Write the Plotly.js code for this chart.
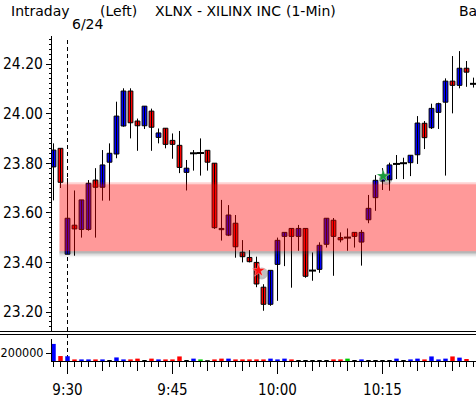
<!DOCTYPE html>
<html><head><meta charset="utf-8">
<script src="https://cdn.plot.ly/plotly-3.0.1.min.js"></script>
<style>html,body{margin:0;padding:0;background:#fff}#chart{width:476px;height:398px}</style>
</head><body><div id="chart"></div>
<script>
// minute offsets from 9:30 (the two negative ones are the previous session's last bars)
const minuteIndex = [-2,-1,0,1,2,3,4,5,6,7,8,9,10,11,12,13,14,15,16,17,18,19,20,21,22,23,24,25,26,27,28,29,30,31,32,33,34,35,36,37,38,39,40,41,42,43,44,45,46,47,48,49,50,51,52,53,54,55,56,57,58];
const openP  = [23.785,23.860,23.433,23.550,23.533,23.533,23.732,23.703,23.804,23.837,23.950,24.091,23.970,23.951,24.010,23.904,23.941,23.892,23.872,23.763,23.840,23.841,23.852,23.800,23.537,23.510,23.558,23.441,23.420,23.400,23.300,23.231,23.392,23.505,23.537,23.505,23.537,23.367,23.372,23.473,23.570,23.500,23.500,23.521,23.482,23.572,23.661,23.728,23.733,23.797,23.800,23.802,23.834,23.961,23.943,24.005,24.046,24.131,24.114,24.183,24.120];
const highP  = [23.880,23.860,23.740,23.690,23.652,23.732,23.780,23.853,23.880,24.048,24.102,24.102,23.980,24.030,24.020,23.940,23.941,23.920,23.930,23.813,23.853,23.900,23.852,23.800,23.652,23.631,23.591,23.490,23.450,23.423,23.312,23.368,23.500,23.521,23.537,23.551,23.537,23.440,23.481,23.578,23.579,23.521,23.537,23.521,23.531,23.672,23.752,23.780,23.802,23.833,23.822,23.832,23.990,23.970,24.040,24.044,24.142,24.232,24.252,24.212,24.145];
const lowP   = [23.650,23.700,23.433,23.427,23.500,23.528,23.500,23.649,23.649,23.820,23.947,23.900,23.850,23.938,23.850,23.880,23.860,23.818,23.760,23.690,23.770,23.750,23.770,23.535,23.488,23.506,23.419,23.400,23.400,23.300,23.205,23.225,23.245,23.385,23.298,23.447,23.338,23.326,23.358,23.460,23.346,23.481,23.447,23.460,23.387,23.558,23.608,23.692,23.689,23.736,23.736,23.748,23.797,23.857,23.938,23.938,23.750,24.001,24.102,24.108,24.105];
const closeP = [23.853,23.723,23.578,23.535,23.652,23.719,23.703,23.793,23.840,23.990,24.091,23.963,23.951,24.030,23.945,23.922,23.876,23.876,23.783,23.780,23.840,23.841,23.804,23.540,23.532,23.591,23.463,23.423,23.403,23.313,23.231,23.368,23.489,23.521,23.505,23.537,23.344,23.367,23.469,23.578,23.505,23.491,23.500,23.505,23.521,23.618,23.731,23.742,23.793,23.797,23.800,23.832,23.962,23.903,24.021,24.040,24.131,24.114,24.183,24.167,24.120];
const volume = [430000,125000,120000,40000,40000,40000,40000,40000,25000,90000,40000,40000,60000,25000,60000,40000,40000,40000,115000,25000,60000,40000,20000,40000,60000,60000,40000,40000,40000,40000,40000,60000,40000,60000,40000,25000,25000,25000,25000,25000,40000,40000,60000,25000,40000,25000,25000,25000,25000,60000,25000,40000,60000,40000,115000,40000,60000,115000,85000,50000,0];
// u = up (blue), d = down (red), n = unchanged (green), z = tiny (black)
const volumeDir = ['u','d','u','d','u','u','d','u','z','u','u','d','d','z','d','u','d','d','d','z','u','n','z','d','d','u','d','d','d','d','d','u','u','u','d','z','z','z','z','z','d','d','n','z','u','z','z','z','z','u','z','u','u','d','u','u','u','d','u','d','z'];
const timeTickVals = [0,15,30,45];
const timeTickText = ['9:30','9:45','10:00','10:15'];
const fiveMinTicks = [0,5,10,15,20,25,30,35,40,45,50,55];
const priceTicks = [23.2,23.4,23.6,23.8,24.0,24.2];
const volTicks = [200000];
const volTickText = ['200000'];
const bandTop = 23.715, bandBottom = 23.445, bandStart = -1.15;
const eventX = [27.3, 45.1];
const eventY = [23.367, 23.748];
const eventColor = ['#ff1010', '#1a9a3a'];

const W = 476, H = 398;
const px = v => v / W;
const py = v => 1 - v / H;
const XR = [-2.214, 58.357];
const FONT = '"DejaVu Sans Condensed", "DejaVu Sans", sans-serif';

const wickX = [], wickY = [];
const bx = [], bbase = [], bh = [], bcol = [];
const dx = [], dy = [];
minuteIndex.forEach((m, i) => {
  wickX.push(m, m, null); wickY.push(lowP[i], highP[i], null);
  const o = openP[i], c = closeP[i];
  if (Math.abs(c - o) < 0.003) { dx.push(m); dy.push(c); }
  else { bx.push(m); bbase.push(Math.min(o, c)); bh.push(Math.abs(c - o)); bcol.push(c > o ? '#0000ff' : '#ff0000'); }
});
const dirColor = {u:'#0000ff', d:'#ff0000', n:'#00cc00', z:'#000000'};

const traces = [
  {type:'scatter', mode:'lines', x:wickX, y:wickY, xaxis:'x', yaxis:'y', line:{color:'#000', width:1}, hoverinfo:'skip'},
  {type:'bar', x:bx, y:bh, base:bbase, width:0.68, xaxis:'x', yaxis:'y', marker:{color:bcol, line:{color:'#000', width:1}}, hoverinfo:'skip'},
  {type:'scatter', mode:'markers', x:dx, y:dy, xaxis:'x', yaxis:'y', marker:{symbol:'line-ew', size:5, line:{color:'#000', width:2}}, hoverinfo:'skip'},
  {type:'scatter', mode:'markers', x:eventX.map(v => v + 0.45), y:eventY.map(v => v - 0.012), xaxis:'x', yaxis:'y', marker:{symbol:'circle', size:12, color:'rgba(0,0,0,0.25)'}, hoverinfo:'skip'},
  {type:'scatter', mode:'markers', x:eventX, y:eventY, xaxis:'x', yaxis:'y', marker:{symbol:'star', size:10, color:eventColor, line:{color:'rgba(255,255,255,0.7)', width:0.5}}, hoverinfo:'skip'},
  {type:'bar', x:minuteIndex, y:volume, width:0.64, xaxis:'x2', yaxis:'y2', marker:{color:volumeDir.map(d => dirColor[d])}, hoverinfo:'skip'},
  {type:'scatter', mode:'markers', x:[0], y:[0], xaxis:'x3', yaxis:'y2', marker:{opacity:0}, hoverinfo:'skip'}
];

const pxPrice = 1 / 248;
const shapes = [
  {type:'rect', xref:'x', yref:'y', x0:bandStart, x1:59, y0:bandBottom, y1:bandTop, fillcolor:'rgba(255,0,0,0.4)', line:{width:0}, layer:'above'},
  {type:'rect', xref:'x', yref:'y', x0:bandStart, x1:59, y0:bandTop, y1:bandTop + 2*pxPrice, fillcolor:'rgba(255,0,0,0.18)', line:{width:0}, layer:'above'},
  {type:'rect', xref:'x', yref:'y', x0:bandStart, x1:59, y0:bandBottom - 1.5*pxPrice, y1:bandBottom, fillcolor:'rgba(40,40,40,0.38)', line:{width:0}, layer:'above'},
  {type:'rect', xref:'x', yref:'y', x0:bandStart, x1:59, y0:bandBottom - 3*pxPrice, y1:bandBottom - 1.5*pxPrice, fillcolor:'rgba(40,40,40,0.25)', line:{width:0}, layer:'above'},
  {type:'rect', xref:'x', yref:'y', x0:bandStart, x1:59, y0:bandBottom - 4.5*pxPrice, y1:bandBottom - 3*pxPrice, fillcolor:'rgba(40,40,40,0.13)', line:{width:0}, layer:'above'},
  {type:'rect', xref:'x', yref:'y', x0:bandStart, x1:59, y0:bandBottom - 6*pxPrice, y1:bandBottom - 4.5*pxPrice, fillcolor:'rgba(40,40,40,0.05)', line:{width:0}, layer:'above'},
  {type:'line', xref:'x', yref:'paper', x0:0, x1:0, y0:py(373), y1:py(37), line:{color:'#000', width:1, dash:'4px,3px'}, layer:'below'},
  {type:'line', xref:'paper', yref:'paper', x0:0, x1:1, y0:py(331.5), y1:py(331.5), line:{color:'#000', width:1}},
  {type:'line', xref:'paper', yref:'paper', x0:0, x1:1, y0:py(334.5), y1:py(334.5), line:{color:'#000', width:1}}
];

const ann = (text, x, y, size) => ({text, x:px(x), y:py(y), xref:'paper', yref:'paper', xanchor:'left', yanchor:'middle', showarrow:false, font:{family:'"DejaVu Sans", sans-serif', size:size, color:'#000'}});
const annotations = [
  ann('Intraday', 9, 11, 14),
  ann('(Left)', 98, 11, 14),
  ann('XLNX - XILINX INC', 153, 11, 14),
  ann('(1-Min)', 284, 11, 14),
  ann('Ba', 457, 11, 14),
  ann('6/24', 70, 24, 14)
];

const layout = {
  width:W, height:H, margin:{l:0, r:0, t:0, b:0}, paper_bgcolor:'#ffffff', plot_bgcolor:'rgba(255,255,255,0)',
  showlegend:false, barmode:'overlay', hovermode:false,
  xaxis:{domain:[px(52),1], range:XR, anchor:'y', showticklabels:false, ticks:'', showline:false, showgrid:false, zeroline:false},
  yaxis:{domain:[py(331), py(36)], range:[23.1234, 24.3129], anchor:'x', tickvals:priceTicks, tickformat:'.2f', ticks:'outside', ticklen:5, tickwidth:1, tickcolor:'#000',
    showline:true, linecolor:'#000', linewidth:1, showgrid:false, zeroline:false, tickfont:{family:FONT, size:15.5, color:'#000'}, ticklabelstandoff:0,
    minor:{dtick:0.02, tick0:23.2, ticks:'outside', ticklen:2, tickcolor:'#000', tickwidth:1, showgrid:false}},
  xaxis2:{domain:[px(52),1], range:XR, anchor:'y2', tickvals:timeTickVals, ticktext:timeTickText, ticks:'outside', ticklen:12, tickcolor:'#000', tickwidth:1,
    showline:true, linecolor:'#000', linewidth:1, showgrid:false, zeroline:false, tickfont:{family:FONT, size:15, color:'#000'}, ticklabelstandoff:3,
    minor:{dtick:1, tick0:0, ticks:'outside', ticklen:5, tickcolor:'#000', tickwidth:1, showgrid:false}},
  xaxis3:{overlaying:'x2', anchor:'y2', range:XR, tickvals:fiveMinTicks, ticks:'outside', ticklen:9, tickcolor:'#000', tickwidth:1, showticklabels:false, showline:false, showgrid:false, zeroline:false},
  yaxis2:{domain:[py(361), py(339)], range:[0, 554000], anchor:'x2', tickvals:volTicks, ticktext:volTickText, ticks:'outside', ticklen:5, tickcolor:'#000', tickwidth:1,
    showline:true, linecolor:'#000', linewidth:1, showgrid:false, zeroline:false, tickfont:{family:FONT, size:12.5, color:'#000'}, ticklabelstandoff:0},
  shapes, annotations
};
Plotly.newPlot('chart', traces, layout, {displayModeBar:false, staticPlot:true});
</script></body></html>
